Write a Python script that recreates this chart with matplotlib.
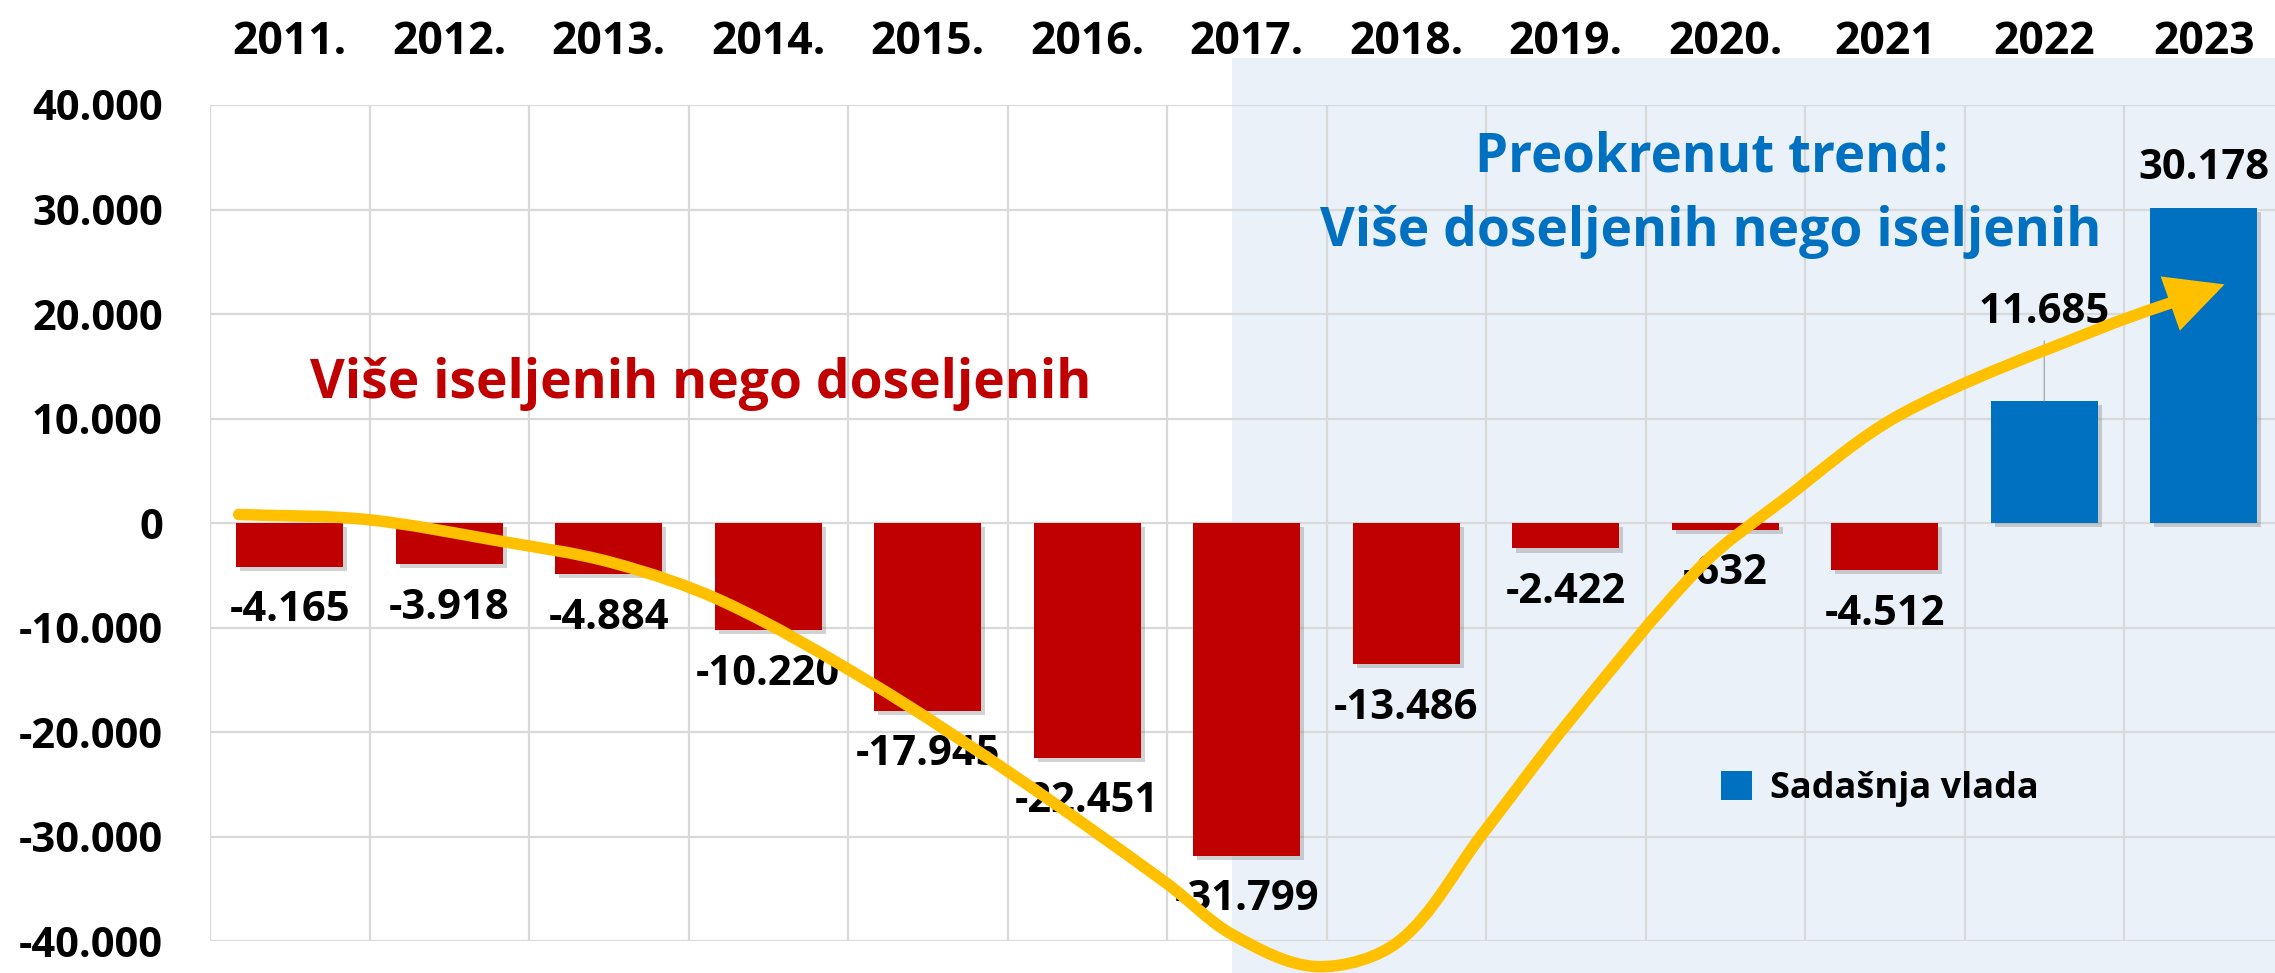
import numpy as np
import matplotlib
matplotlib.use("Agg")
import matplotlib.pyplot as plt
from matplotlib.patches import Rectangle, FancyArrowPatch, ArrowStyle
from matplotlib.path import Path
from matplotlib.ticker import FuncFormatter
import matplotlib.patheffects as pe

plt.rcParams["font.family"] = ["Open Sans", "DejaVu Sans"]
plt.rcParams["font.weight"] = "bold"

# net migration by year
years = ["2011.", "2012.", "2013.", "2014.", "2015.", "2016.", "2017.",
         "2018.", "2019.", "2020.", "2021", "2022", "2023"]
net_migration = [-4165, -3918, -4884, -10220, -17945, -22451, -31799,
                 -13486, -2422, -632, -4512, 11685, 30178]
current_gov = [False] * 11 + [True, True]
legend_label = "Sadašnja vlada"

# hand-drawn trend arrow (x in category units, y in persons)
trend_x = [-0.32, 0.48, 1.30, 2.02, 2.73, 3.64, 4.55, 5.50, 5.91, 6.44,
           6.96, 7.48, 8.01, 8.84, 9.36, 10.10, 11.35, 12.13]
trend_y = [830, 350, -1670, -3770, -7590, -15240, -24240, -34480, -39360,
           -42420, -39930, -29690, -19170, -4240, 2170, 10400, 18630, 22840]

RED = "#C00000"
BLUE = "#0070C0"
GOLD = "#FFC000"
GRID = "#D9D9D9"
SHADE = "#EAF1F9"

W, H = 2275, 973
fig = plt.figure(figsize=(W / 100, H / 100), dpi=100)
fig.patch.set_facecolor("white")

# light panel behind the recent years
fig.patches.append(Rectangle((1232 / W, 0), 1 - 1232 / W, 1 - 57.7 / H,
                             transform=fig.transFigure, facecolor=SHADE,
                             edgecolor="none", zorder=-1))

ax = fig.add_axes([210 / W, 1 - 941.3 / H, 2073.5 / W, (941.3 - 105) / H])
ax.set_facecolor("none")
for s in ax.spines.values():
    s.set_visible(False)

x = np.arange(len(years))
shadow = [pe.withSimplePatchShadow(offset=(3, -3), shadow_rgbFace="#808080", alpha=0.35)]
red_bars = ax.bar(x[:11], net_migration[:11], width=0.67, color=RED, zorder=3)
blue_bars = ax.bar(x[11:], net_migration[11:], width=0.67, color=BLUE, zorder=3,
                   label=legend_label)
for b in list(red_bars) + list(blue_bars):
    b.set_path_effects(shadow)

ax.set_xlim(-0.5, 12.5)
ax.set_ylim(-40000, 40000)
ax.set_yticks(np.arange(-40000, 40001, 10000))
ax.yaxis.set_major_formatter(FuncFormatter(lambda v, p: f"{int(v):,}".replace(",", ".")))
ax.set_xticks(x)
ax.set_xticklabels(years)
ax.set_xticks(np.arange(-0.5, 13, 1), minor=True)
ax.xaxis.tick_top()
ax.tick_params(axis="x", which="both", length=0, pad=29, labelsize=32)
ax.tick_params(axis="y", length=0, pad=34, labelsize=30)
ax.grid(axis="y", which="major", color=GRID, lw=1.6)
ax.grid(axis="x", which="minor", color=GRID, lw=1.6)
ax.set_axisbelow(True)

# value labels
for i, v in enumerate(net_migration):
    lbl = f"{v:,}".replace(",", ".")
    if v < 0:
        ax.annotate(lbl, (i, v), xytext=(0, -31.7), textcoords="offset points",
                    ha="center", va="center", fontsize=30, fontweight="bold", zorder=5)
    elif i == 11:
        ax.annotate(lbl, (i, v), xytext=(0, 64), textcoords="offset points",
                    ha="center", va="center", fontsize=30, fontweight="bold", zorder=5,
                    arrowprops=dict(arrowstyle="-", color="#A6A6A6", lw=0.9,
                                    shrinkA=4, shrinkB=0))
    else:
        ax.annotate(lbl, (i, v), xytext=(0, 28), textcoords="offset points",
                    ha="center", va="center", fontsize=30, fontweight="bold", zorder=5)

# trend arrow: chord-length Catmull-Rom spline turned into cubic Bezier segments
pts = np.column_stack([trend_x, trend_y]).astype(float)
disp = ax.transData.transform(pts)
t = np.concatenate([[0], np.cumsum(np.hypot(*np.diff(disp, axis=0).T))])
n = len(pts)
tang = np.zeros_like(pts)
for k in range(n):
    a, b = max(k - 1, 0), min(k + 1, n - 1)
    tang[k] = (pts[b] - pts[a]) / (t[b] - t[a])
verts = [pts[0]]
codes = [Path.MOVETO]
for k in range(n - 1):
    dt = t[k + 1] - t[k]
    verts += [pts[k] + tang[k] * dt / 3, pts[k + 1] - tang[k + 1] * dt / 3, pts[k + 1]]
    codes += [Path.CURVE4] * 3
arrow = FancyArrowPatch(path=Path(verts, codes),
                        arrowstyle=ArrowStyle("-|>", head_length=0.5, head_width=0.25),
                        mutation_scale=56, lw=8.3, color=GOLD, clip_on=False,
                        zorder=10, joinstyle="miter")
ax.add_patch(arrow)

# annotations
fig.text(701 / W, 1 - 398 / H, "Više iseljenih nego doseljenih", color=RED,
         fontsize=38.5, fontweight="bold", ha="center", va="baseline")
fig.text(1712 / W, 1 - 171 / H, "Preokrenut trend:", color=BLUE,
         fontsize=38, fontweight="bold", ha="center", va="baseline")
fig.text(1711 / W, 1 - 246 / H, "Više doseljenih nego iseljenih", color=BLUE,
         fontsize=38.5, fontweight="bold", ha="center", va="baseline")

leg = ax.legend(handles=[blue_bars], loc="center left",
                bbox_to_anchor=(1721 / W, 1 - 789 / H), bbox_transform=fig.transFigure,
                frameon=False, fontsize=26, borderpad=0, borderaxespad=0,
                handlelength=0.85, handleheight=0.85, handletextpad=0.5)
for h in leg.legend_handles:
    h.set_path_effects([])

fig.savefig("out.png", dpi=100)
